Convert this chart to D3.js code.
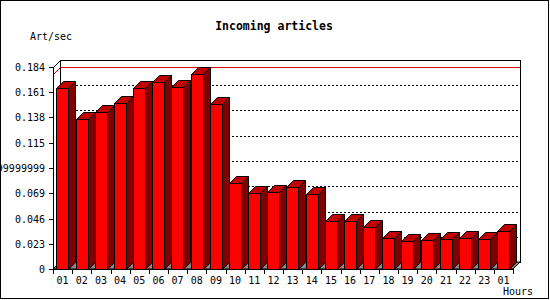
<!DOCTYPE html>
<html>
<head>
<meta charset="utf-8">
<script src="https://cdn.jsdelivr.net/npm/d3@7"></script>
<style>
  body { margin: 0; background: #fff; }
  svg { display: block; }
  text { font-family: "DejaVu Sans Mono", monospace; fill: #000; }
</style>
</head>
<body>
<div id="chart"></div>
<script>
const hours = ['01', '02', '03', '04', '05', '06', '07', '08', '09', '10', '11', '12',
    '13', '14', '15', '16', '17', '18', '19', '20', '21', '22', '23', '01'];

const artPerSec = [0.1646, 0.1364, 0.1430, 0.1512, 0.1646, 0.1701, 0.1655, 0.1774,
    0.1503, 0.0781, 0.0690, 0.0699, 0.0744, 0.0680, 0.0434, 0.0434,
    0.0380, 0.0280, 0.0252, 0.0261, 0.0271, 0.0280, 0.0271, 0.0343];

const yTickValues = [0, 0.023, 0.046, 0.069, 0.092, 0.115, 0.138, 0.161, 0.184];
const yTickLabels = ['0', '0.023', '0.046', '0.069', '0.09199999999', '0.115', '0.138', '0.161', '0.184'];

const width = 550;
const height = 300;
const depth = 7;
const plotLeft = 53, plotRight = 513, plotBottom = 269, plotTop = 67;

const svg = d3.select('#chart').append('svg')
    .attr('width', width)
    .attr('height', height);

const x = d3.scaleBand()
    .domain(d3.range(hours.length))
    .range([plotLeft, plotRight])
    .paddingInner(0.35)
    .paddingOuter(0.175);

const y = d3.scaleLinear()
    .domain([0, 0.184])
    .range([plotBottom, plotTop]);

// outer frame
svg.append('rect')
    .attr('x', 0.5).attr('y', 0.5)
    .attr('width', width - 2).attr('height', height - 2)
    .attr('fill', '#fff')
    .attr('stroke', '#000');

svg.append('text')
    .attr('x', 274).attr('y', 30)
    .attr('text-anchor', 'middle')
    .attr('font-weight', 'bold')
    .attr('font-size', '11.5px')
    .text('Incoming articles');

svg.append('text')
    .attr('x', 30).attr('y', 40)
    .attr('font-size', '10px')
    .text('Art/sec');

// back wall
svg.append('rect')
    .attr('x', plotLeft + depth + 0.5).attr('y', plotTop - depth + 0.5)
    .attr('width', plotRight - plotLeft).attr('height', plotBottom - plotTop)
    .attr('fill', '#fff')
    .attr('stroke', '#000')
    .attr('shape-rendering', 'crispEdges');

// dotted grid on the back wall
svg.append('g')
    .selectAll('line')
    .data(yTickValues.slice(1, -1))
    .join('line')
    .attr('x1', plotLeft + depth).attr('x2', plotRight + depth)
    .attr('y1', d => Math.round(y(d)) - depth + 0.5)
    .attr('y2', d => Math.round(y(d)) - depth + 0.5)
    .attr('stroke', '#000')
    .attr('stroke-dasharray', '2,2')
    .attr('shape-rendering', 'crispEdges');

// max line
const yMax = Math.round(y(d3.max(artPerSec)));
svg.append('path')
    .attr('d', `M${plotLeft + 0.5},${yMax + 0.5}L${plotLeft + depth + 0.5},${yMax - depth + 0.5}H${plotRight + depth}`)
    .attr('fill', 'none')
    .attr('stroke', '#e00000');

// side wall top edge
svg.append('path')
    .attr('d', `M${plotLeft + 0.5},${plotTop + 0.5}L${plotLeft + depth + 0.5},${plotTop - depth + 0.5}`)
    .attr('stroke', '#000');

// floor
svg.append('path')
    .attr('d', `M${plotLeft},${plotBottom}H${plotRight}L${plotRight + depth},${plotBottom - depth}H${plotLeft + depth}Z`)
    .attr('fill', '#888')
    .attr('stroke', '#000');

// bars
const bars = svg.append('g')
    .selectAll('g')
    .data(artPerSec)
    .join('g');

const bx = (d, i) => Math.round(x(i)) + 0.5;
const bw = Math.round(x.bandwidth());
const by = d => Math.round(y(d)) + 0.5;
const yb = plotBottom + 0.5;

bars.append('path')
    .attr('d', (d, i) => {
        const x0 = bx(d, i) + bw, t = by(d);
        return `M${x0},${t}L${x0 + depth},${t - depth}V${yb - depth}L${x0},${yb}Z`;
    })
    .attr('fill', '#800000')
    .attr('stroke', '#000');

bars.append('path')
    .attr('d', (d, i) => {
        const x0 = bx(d, i), t = by(d);
        return `M${x0},${t}L${x0 + depth},${t - depth}H${x0 + bw + depth}L${x0 + bw},${t}Z`;
    })
    .attr('fill', '#c00000')
    .attr('stroke', '#000');

bars.append('rect')
    .attr('x', (d, i) => bx(d, i))
    .attr('y', d => by(d))
    .attr('width', bw)
    .attr('height', d => yb - by(d))
    .attr('fill', '#ff0000')
    .attr('stroke', '#000')
    .attr('shape-rendering', 'crispEdges');

// y axis
const yAxis = svg.append('g');
yAxis.append('line')
    .attr('x1', plotLeft + 0.5).attr('x2', plotLeft + 0.5)
    .attr('y1', plotTop).attr('y2', plotBottom + 1)
    .attr('stroke', '#000');
yAxis.selectAll('line.tick')
    .data(yTickValues)
    .join('line')
    .attr('class', 'tick')
    .attr('x1', plotLeft - 4).attr('x2', plotLeft)
    .attr('y1', d => Math.round(y(d)) + 0.5)
    .attr('y2', d => Math.round(y(d)) + 0.5)
    .attr('stroke', '#000');
yAxis.selectAll('text')
    .data(yTickValues)
    .join('text')
    .attr('x', plotLeft - 8)
    .attr('y', d => Math.round(y(d)) + 4)
    .attr('text-anchor', 'end')
    .attr('font-size', '10px')
    .text((d, i) => yTickLabels[i]);

// x axis
const xAxis = svg.append('g');
xAxis.append('line')
    .attr('x1', plotLeft).attr('x2', plotRight + 1)
    .attr('y1', plotBottom + 0.5).attr('y2', plotBottom + 0.5)
    .attr('stroke', '#000');
xAxis.selectAll('line.tick')
    .data(d3.range(hours.length + 1))
    .join('line')
    .attr('class', 'tick')
    .attr('x1', i => Math.round(plotLeft + i * x.step()) + 0.5)
    .attr('x2', i => Math.round(plotLeft + i * x.step()) + 0.5)
    .attr('y1', plotBottom).attr('y2', plotBottom + 5)
    .attr('stroke', '#000');
xAxis.selectAll('text')
    .data(hours)
    .join('text')
    .attr('x', (d, i) => plotLeft + (i + 0.5) * x.step())
    .attr('y', 284)
    .attr('text-anchor', 'middle')
    .attr('font-size', '10px')
    .text(d => d);

svg.append('text')
    .attr('x', 533).attr('y', 295)
    .attr('text-anchor', 'end')
    .attr('font-size', '10px')
    .text('Hours');
</script>
</body>
</html>
